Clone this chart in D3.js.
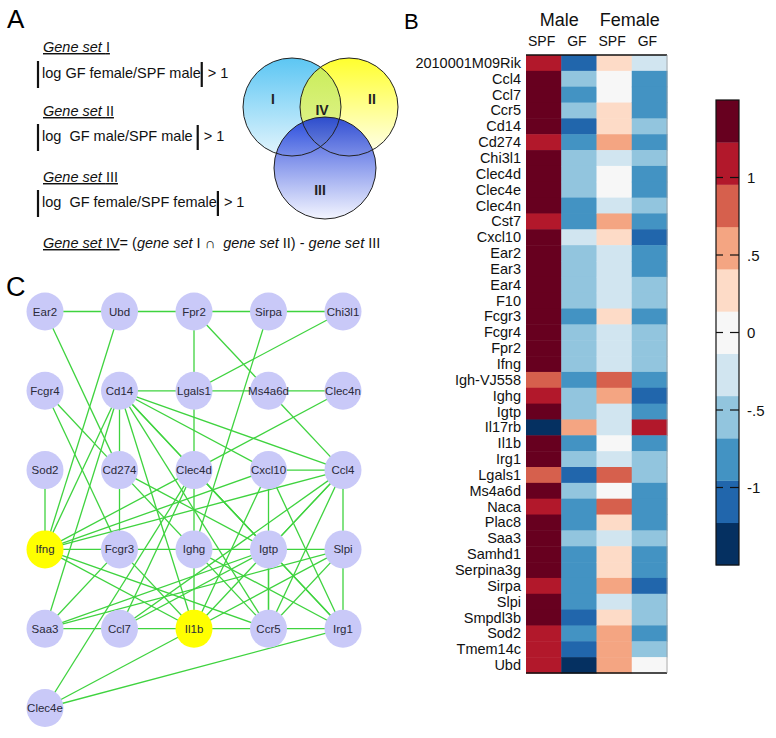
<!DOCTYPE html>
<html>
<head>
<meta charset="utf-8">
<script src="https://cdn.jsdelivr.net/npm/d3@7"></script>
<style>
  body { margin: 0; background: #fff; }
  svg { display: block; font-family: "Liberation Sans", Arial, sans-serif; }
</style>
</head>
<body>
<svg id="fig" width="776" height="738"></svg>
<script>
// ---- panel B data (log ratio, one array per column) ----
const genes = ["2010001M09Rik", "Ccl4", "Ccl7", "Ccr5", "Cd14", "Cd274", "Chi3l1", "Clec4d", "Clec4e", "Clec4n",
  "Cst7", "Cxcl10", "Ear2", "Ear3", "Ear4", "F10", "Fcgr3", "Fcgr4", "Fpr2", "Ifng",
  "Igh-VJ558", "Ighg", "Igtp", "Il17rb", "Il1b", "Irg1", "Lgals1", "Ms4a6d", "Naca", "Plac8",
  "Saa3", "Samhd1", "Serpina3g", "Sirpa", "Slpi", "Smpdl3b", "Sod2", "Tmem14c", "Ubd"]
const sexes = ["Male", "Female"]
const conditions = ["SPF", "GF", "SPF", "GF"]
const maleSPF = [1.12, 1.41, 1.44, 1.39, 1.36, 1.15, 1.40, 1.38, 1.42, 1.37,
  1.10, 1.43, 1.40, 1.39, 1.41, 1.38, 1.36, 1.42, 1.40, 1.37,
  0.84, 1.08, 1.33, -1.38, 1.41, 1.39, 0.86, 1.35, 1.13, 1.40,
  1.43, 1.38, 1.36, 1.11, 1.39, 1.34, 1.14, 1.09, 1.12]
const maleGF = [-1.10, -0.55, -0.80, -0.58, -1.05, -0.85, -0.52, -0.56, -0.54, -0.82,
  -0.78, -0.30, -0.57, -0.55, -0.53, -0.56, -0.83, -0.54, -0.58, -0.55,
  -0.80, -0.52, -0.57, 0.56, -0.84, -0.55, -1.08, -0.53, -0.81, -0.79,
  -0.50, -0.82, -0.80, -0.86, -0.83, -1.02, -0.77, -1.06, -1.40]
const femaleSPF = [0.28, 0.02, -0.03, 0.25, 0.30, 0.58, -0.25, 0.01, 0.04, -0.22,
  0.55, 0.27, -0.28, -0.26, -0.30, -0.27, 0.32, -0.29, -0.24, -0.27,
  0.80, 0.60, -0.23, -0.26, 0.03, -0.28, 0.83, -0.02, 0.78, 0.29,
  -0.31, 0.26, 0.24, 0.57, -0.22, 0.31, 0.52, 0.54, 0.56]
const femaleGF = [-0.30, -0.82, -0.80, -0.84, -0.56, -0.83, -0.55, -0.79, -0.81, -0.58,
  -0.80, -1.04, -0.82, -0.85, -0.54, -0.56, -0.80, -0.57, -0.55, -0.53,
  -0.81, -1.07, -0.78, 1.10, -0.83, -0.56, -0.52, -0.84, -0.80, -0.82,
  -0.57, -0.79, -0.81, -1.09, -0.55, -0.58, -0.85, -0.53, 0.01]
const colorTicks = [1, 0.5, 0, -0.5, -1]

// ---- panel C data (grid column / row of every node) ----
const nodeNames = ["Ear2", "Ubd", "Fpr2", "Sirpa", "Chi3l1",
  "Fcgr4", "Cd14", "Lgals1", "Ms4a6d", "Clec4n",
  "Sod2", "Cd274", "Clec4d", "Cxcl10", "Ccl4",
  "Ifng", "Fcgr3", "Ighg", "Igtp", "Slpi",
  "Saa3", "Ccl7", "Il1b", "Ccr5", "Irg1",
  "Clec4e"]
const nodeCol = [0, 1, 2, 3, 4, 0, 1, 2, 3, 4, 0, 1, 2, 3, 4, 0, 1, 2, 3, 4, 0, 1, 2, 3, 4, 0]
const nodeRow = [0, 0, 0, 0, 0, 1, 1, 1, 1, 1, 2, 2, 2, 2, 2, 3, 3, 3, 3, 3, 4, 4, 4, 4, 4, 5]
const hubNodes = ["Ifng", "Il1b"]
const edges = [
  ["Ear2", "Ubd"], ["Ubd", "Fpr2"], ["Fpr2", "Sirpa"], ["Sirpa", "Chi3l1"],
  ["Ear2", "Cd274"], ["Ubd", "Ifng"], ["Fpr2", "Lgals1"], ["Fpr2", "Ms4a6d"], ["Sirpa", "Ighg"], ["Chi3l1", "Lgals1"],
  ["Cd14", "Lgals1"], ["Lgals1", "Ms4a6d"], ["Ms4a6d", "Clec4n"], ["Lgals1", "Clec4d"], ["Ms4a6d", "Ccl4"], ["Clec4n", "Clec4d"],
  ["Fcgr4", "Cd274"], ["Fcgr4", "Fcgr3"],
  ["Cd14", "Cd274"], ["Cd14", "Clec4d"], ["Cd14", "Cxcl10"], ["Cd14", "Ccl4"], ["Cd14", "Il1b"], ["Cd14", "Igtp"],
  ["Cd14", "Ccr5"], ["Cd14", "Ifng"], ["Cd14", "Saa3"],
  ["Sod2", "Ifng"], ["Cd274", "Fcgr3"], ["Cd274", "Igtp"], ["Cd274", "Ccr5"],
  ["Clec4d", "Ighg"], ["Clec4d", "Igtp"], ["Clec4d", "Ifng"], ["Clec4d", "Ccl7"], ["Clec4d", "Irg1"],
  ["Cxcl10", "Ccl4"], ["Cxcl10", "Ifng"], ["Cxcl10", "Il1b"], ["Cxcl10", "Ccr5"], ["Cxcl10", "Irg1"],
  ["Ccl4", "Slpi"], ["Ccl4", "Ifng"], ["Ccl4", "Ccl7"], ["Ccl4", "Il1b"], ["Ccl4", "Ccr5"], ["Ccl4", "Igtp"],
  ["Ifng", "Fcgr3"], ["Fcgr3", "Ighg"], ["Ighg", "Igtp"], ["Igtp", "Slpi"],
  ["Ifng", "Il1b"], ["Ifng", "Ccr5"], ["Fcgr3", "Saa3"], ["Fcgr3", "Il1b"], ["Ighg", "Il1b"], ["Ighg", "Irg1"],
  ["Igtp", "Ccr5"], ["Igtp", "Irg1"], ["Igtp", "Ccl7"], ["Igtp", "Saa3"],
  ["Slpi", "Irg1"], ["Slpi", "Saa3"], ["Slpi", "Ccr5"], ["Slpi", "Il1b"],
  ["Saa3", "Ccl7"], ["Ccl7", "Il1b"], ["Il1b", "Ccr5"], ["Ccr5", "Irg1"],
  ["Clec4e", "Clec4d"], ["Clec4e", "Il1b"], ["Clec4e", "Irg1"]
]

const svg = d3.select("#fig")
svg.append("rect").attr("width", 776).attr("height", 738).attr("fill", "#fff")

// panel letters
svg.append("text").attr("x", 7).attr("y", 28).style("font-size", "26px").text("A")
svg.append("text").attr("x", 404).attr("y", 29).style("font-size", "22px").text("B")
svg.append("text").attr("x", 6).attr("y", 296).style("font-size", "27px").text("C")

// ================= A =================
const pa = svg.append("g").style("font-size", "14.5px").attr("fill", "#111")

function setTitle(y, roman) {
    let t = pa.append("text").attr("x", 43).attr("y", y).style("text-decoration", "underline")
    t.append("tspan").style("font-style", "italic").text("Gene set ")
    t.append("tspan").text(roman)
}
function absExpr(y, label) {
    let t = pa.append("text").attr("x", 42).attr("y", y).attr("xml:space", "preserve")
        .style("white-space", "pre").text(label)
    let w = t.node().getComputedTextLength()
    pa.append("line").attr("x1", 38).attr("x2", 38).attr("y1", y - 17).attr("y2", y + 10)
        .attr("stroke", "#111").attr("stroke-width", 2.2)
    pa.append("line").attr("x1", 43 + w).attr("x2", 43 + w).attr("y1", y - 16).attr("y2", y + 9)
        .attr("stroke", "#111").attr("stroke-width", 2.2)
    pa.append("text").attr("x", 49 + w).attr("y", y).text("> 1")
}
setTitle(52, "I")
absExpr(78, "log GF female/SPF male")
setTitle(116, "II")
absExpr(141, "log  GF male/SPF male ")
setTitle(182, "III")
absExpr(207, "log  GF female/SPF female")

let iv = pa.append("text").attr("x", 43).attr("y", 248).attr("xml:space", "preserve").style("white-space", "pre")
iv.append("tspan").style("text-decoration", "underline").style("font-style", "italic").text("Gene set ")
iv.append("tspan").style("text-decoration", "underline").text("IV")
iv.append("tspan").text("= (")
iv.append("tspan").style("font-style", "italic").text("gene set")
iv.append("tspan").text(" I \u2229  ")
iv.append("tspan").style("font-style", "italic").text("gene set")
iv.append("tspan").text(" II) - ")
iv.append("tspan").style("font-style", "italic").text("gene set")
iv.append("tspan").text(" III")

// venn
const defs = svg.append("defs")
function vgrad(id, c0, c1) {
    let g = defs.append("linearGradient").attr("id", id).attr("x1", 0).attr("y1", 0).attr("x2", 0).attr("y2", 1)
    g.append("stop").attr("offset", "0%").attr("stop-color", c0)
    g.append("stop").attr("offset", "100%").attr("stop-color", c1)
}
vgrad("gI", "#5cc6f3", "#e3f5fd")
vgrad("gII", "#ffff2e", "#fffff0")
vgrad("gIV", "#c8ec55", "#e6f59a")
vgrad("gIII", "#1536d8", "#f2f4ff")

const venn = [
    {id: "I", cx: 292, cy: 107, r: 49},
    {id: "II", cx: 349, cy: 107, r: 49},
    {id: "III", cx: 325, cy: 168, r: 51}
]
const vg = svg.append("g")
vg.append("circle").attr("cx", venn[0].cx).attr("cy", venn[0].cy).attr("r", venn[0].r).attr("fill", "url(#gI)")
vg.append("circle").attr("cx", venn[1].cx).attr("cy", venn[1].cy).attr("r", venn[1].r).attr("fill", "url(#gII)")
defs.append("clipPath").attr("id", "clipI").append("circle")
    .attr("cx", venn[0].cx).attr("cy", venn[0].cy).attr("r", venn[0].r)
vg.append("circle").attr("cx", venn[1].cx).attr("cy", venn[1].cy).attr("r", venn[1].r)
    .attr("fill", "url(#gIV)").attr("clip-path", "url(#clipI)")
vg.append("circle").attr("cx", venn[2].cx).attr("cy", venn[2].cy).attr("r", venn[2].r)
    .attr("fill", "url(#gIII)").attr("fill-opacity", 0.88)
vg.selectAll("circle.edge").data(venn).join("circle").attr("class", "edge")
    .attr("cx", d => d.cx).attr("cy", d => d.cy).attr("r", d => d.r)
    .attr("fill", "none").attr("stroke", "#222").attr("stroke-width", 1)
const vlabels = [["I", 273, 99], ["II", 372, 99], ["IV", 322, 110], ["III", 320, 190]]
vg.selectAll("text").data(vlabels).join("text")
    .attr("x", d => d[1]).attr("y", d => d[2])
    .attr("text-anchor", "middle").attr("dominant-baseline", "central")
    .style("font-size", "14px").style("font-weight", "bold").attr("fill", "#222")
    .text(d => d[0])

// ================= B =================
const columns = [maleSPF, maleGF, femaleSPF, femaleGF]
const color = d3.scaleQuantize().domain([-1.5, 1.5]).range(d3.schemeRdBu[11].slice().reverse())

const x = d3.scaleBand().domain(d3.range(4)).range([526, 667])
const y = d3.scaleBand().domain(genes).range([55, 673])

const pb = svg.append("g")
columns.forEach((col, ci) => {
    pb.append("g").selectAll("rect").data(col).join("rect")
        .attr("x", x(ci)).attr("width", x.bandwidth() + 0.5)
        .attr("y", (d, i) => y(genes[i])).attr("height", y.bandwidth() + 0.5)
        .attr("fill", d => color(d))
})
pb.append("line").attr("x1", 526).attr("x2", 667).attr("y1", 55).attr("y2", 55).attr("stroke", "#111").attr("stroke-width", 1.5)
pb.append("line").attr("x1", 526).attr("x2", 667).attr("y1", 673).attr("y2", 673).attr("stroke", "#111").attr("stroke-width", 1.5)
pb.append("line").attr("x1", 667).attr("x2", 667).attr("y1", 55).attr("y2", 673).attr("stroke", "#999").attr("stroke-width", 0.8)

pb.append("g").selectAll("text").data(genes).join("text")
    .attr("x", 521).attr("y", d => y(d) + y.bandwidth() / 2)
    .attr("text-anchor", "end").attr("dominant-baseline", "central")
    .style("font-size", "14.5px").attr("fill", "#111")
    .text(d => d)

pb.append("g").selectAll("text").data(conditions).join("text")
    .attr("x", (d, i) => x(i) + x.bandwidth() / 2 - 2).attr("y", 46)
    .attr("text-anchor", "middle").style("font-size", "14px").attr("fill", "#111")
    .text(d => d)
pb.append("g").selectAll("text").data(sexes).join("text")
    .attr("x", (d, i) => x(i * 2) + x.bandwidth() - 2).attr("y", 26)
    .attr("text-anchor", "middle").style("font-size", "18px").attr("fill", "#111")
    .text(d => d)

// colour bar
const cb = d3.scaleLinear().domain([-1.5, 1.5]).range([565, 100])
const cbg = svg.append("g")
cbg.selectAll("rect").data(color.range()).join("rect")
    .attr("x", 716).attr("width", 23)
    .attr("y", d => cb(color.invertExtent(d)[1]))
    .attr("height", d => cb(color.invertExtent(d)[0]) - cb(color.invertExtent(d)[1]) + 0.3)
    .attr("fill", d => d)
cbg.append("rect").attr("x", 716).attr("y", 100).attr("width", 23).attr("height", 465)
    .attr("fill", "none").attr("stroke", "#111").attr("stroke-width", 1.2)
const fmt = v => v === 0 ? "0" : String(v).replace("0.", ".")
colorTicks.forEach(v => {
    cbg.append("line").attr("x1", 716).attr("x2", 723).attr("y1", cb(v)).attr("y2", cb(v)).attr("stroke", "#111").attr("stroke-width", 1.2)
    cbg.append("line").attr("x1", 730).attr("x2", 739).attr("y1", cb(v)).attr("y2", cb(v)).attr("stroke", "#111").attr("stroke-width", 1.2)
    cbg.append("text").attr("x", 747).attr("y", cb(v)).attr("dominant-baseline", "central")
        .style("font-size", "15px").attr("fill", "#111").text(fmt(v))
})

// ================= C =================
const nx = d3.scaleLinear().domain([0, 4]).range([45, 343])
const ny = d3.scaleLinear().domain([0, 5]).range([311.5, 708])
const nodes = nodeNames.map((n, i) => ({name: n, x: nx(nodeCol[i]), y: ny(nodeRow[i])}))
const byName = new Map(nodes.map(d => [d.name, d]))

const pc = svg.append("g")
pc.append("g").selectAll("line").data(edges).join("line")
    .attr("x1", d => byName.get(d[0]).x).attr("y1", d => byName.get(d[0]).y)
    .attr("x2", d => byName.get(d[1]).x).attr("y2", d => byName.get(d[1]).y)
    .attr("stroke", "#3fd33f").attr("stroke-width", 1.3)
const ng = pc.append("g").selectAll("g").data(nodes).join("g")
    .attr("transform", d => `translate(${d.x},${d.y})`)
ng.append("ellipse").attr("rx", 18.5).attr("ry", 19)
    .attr("fill", d => hubNodes.includes(d.name) ? "#ffff00" : "#c9c9f8")
ng.append("text").attr("text-anchor", "middle").attr("dominant-baseline", "central")
    .style("font-size", "11.5px").attr("fill", "#2a2a3a")
    .text(d => d.name)
</script>
</body>
</html>
